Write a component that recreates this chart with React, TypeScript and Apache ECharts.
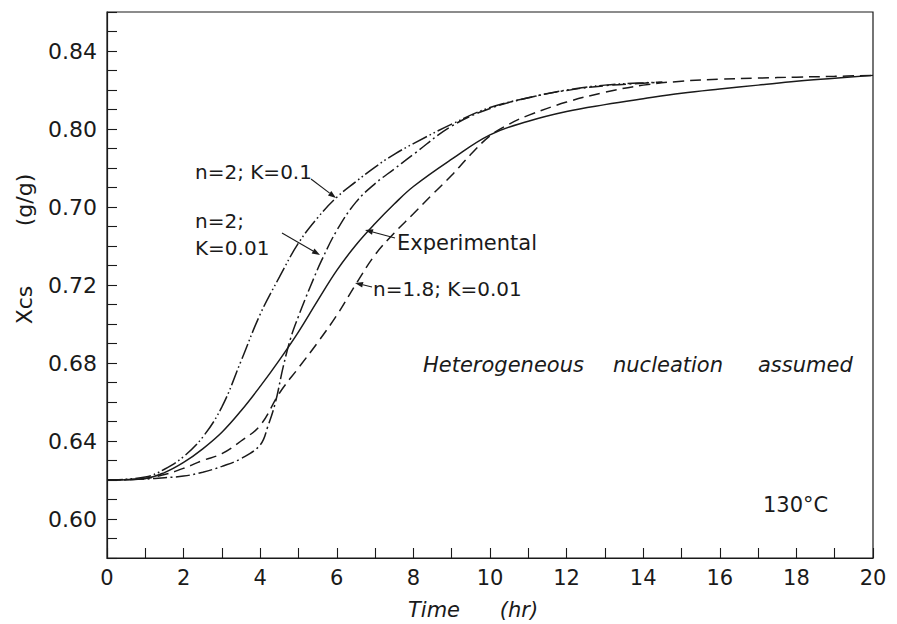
import React, { useEffect, useRef } from "react";
import * as echarts from "echarts";

// ---- data ----
const xLabelValues = [0, 2, 4, 6, 8, 10, 12, 14, 16, 18, 20];
const yLabelValues = [0.6, 0.64, 0.68, 0.72, 0.76, 0.8, 0.84];
const yLabelTexts = ["0.60", "0.64", "0.68", "0.72", "0.70", "0.80", "0.84"];

const experimental = [
  [0, 0.62], [1, 0.6208], [1.5, 0.6238], [2, 0.629], [2.5, 0.636], [3, 0.6445],
  [3.5, 0.6555], [4, 0.668], [4.5, 0.6815], [5, 0.696], [5.5, 0.712], [6, 0.7275],
  [6.5, 0.7405], [7, 0.7515], [7.5, 0.7615], [8, 0.7705], [9, 0.7845], [10, 0.797],
  [11, 0.804], [12, 0.809], [13, 0.8125], [14, 0.8155], [15, 0.8183], [16, 0.8205],
  [17, 0.8225], [18, 0.8245], [19, 0.826], [20, 0.8275],
];

const n2K01 = [
  [0, 0.62], [1, 0.6215], [1.5, 0.6255], [2, 0.632], [2.5, 0.642], [3, 0.6575],
  [3.5, 0.681], [4, 0.705], [4.5, 0.724], [5, 0.7415], [5.5, 0.7545], [6, 0.765],
  [6.5, 0.773], [7, 0.7805], [7.5, 0.787], [8, 0.7925], [9, 0.8025], [10, 0.811],
  [11, 0.816], [12, 0.82], [13, 0.8225], [14, 0.8237], [14.5, 0.824],
];

const n2K001 = [
  [0, 0.62], [1, 0.6205], [1.5, 0.6212], [2, 0.622], [2.5, 0.624], [3, 0.627],
  [3.5, 0.631], [4, 0.638], [4.2, 0.6475], [4.4, 0.66], [4.6, 0.678], [4.8, 0.693],
  [5, 0.704], [5.2, 0.714], [5.4, 0.7235], [5.6, 0.7325], [6, 0.748], [6.5, 0.7625],
  [7, 0.772], [7.5, 0.7795], [8, 0.787], [9, 0.8015], [10, 0.8105], [11, 0.816],
  [12, 0.8198], [13, 0.8222], [14, 0.8235], [14.5, 0.824],
];

const n18K001 = [
  [0, 0.62], [1, 0.6208], [1.5, 0.6228], [2, 0.626], [2.5, 0.63], [3, 0.6335],
  [3.5, 0.64], [4, 0.648], [4.5, 0.6645], [5, 0.6775], [5.5, 0.6905], [6, 0.7045],
  [6.5, 0.7205], [7, 0.7355], [7.5, 0.7467], [8, 0.7565], [8.5, 0.7665], [9, 0.7763],
  [9.5, 0.787], [10, 0.7965], [10.5, 0.8025], [11, 0.807], [12, 0.8138], [13, 0.8188],
  [14, 0.8225], [15, 0.8245], [16, 0.8255], [17, 0.8261], [18, 0.8266], [19, 0.827],
  [20, 0.8275],
];

const FONT = "DejaVu Sans";
const INK = "#1a1a1a";

function arrow(x1: number, y1: number, x2: number, y2: number) {
  const dx = x2 - x1;
  const dy = y2 - y1;
  const len = Math.hypot(dx, dy);
  const ux = dx / len;
  const uy = dy / len;
  const hl = 8;
  const hw = 2.8;
  const bx = x2 - ux * hl;
  const by = y2 - uy * hl;
  return [
    {
      type: "line",
      silent: true,
      shape: { x1, y1, x2: bx, y2: by },
      style: { stroke: INK, lineWidth: 1.1 },
    },
    {
      type: "polygon",
      silent: true,
      shape: {
        points: [
          [x2, y2],
          [bx - uy * hw, by + ux * hw],
          [bx + uy * hw, by - ux * hw],
        ],
      },
      style: { fill: INK },
    },
  ];
}

function label(text: string, x: number, y: number, size = 20, italic = false, align = "left", rotation = 0) {
  return {
    type: "text",
    silent: true,
    x,
    y,
    rotation,
    style: {
      text,
      fill: INK,
      fontSize: size,
      fontFamily: FONT,
      fontStyle: italic ? "italic" : "normal",
      align,
      verticalAlign: "middle",
    },
  };
}

export default function App() {
  const ref = useRef<HTMLDivElement>(null);

  useEffect(() => {
    if (!ref.current) return;
    const chart = echarts.init(ref.current, undefined, { renderer: "svg" });

    const lineBase = {
      type: "line",
      showSymbol: false,
      symbol: "none",
      smooth: 0.4,
      clip: true,
    };

    chart.setOption({
      animation: false,
      backgroundColor: "#ffffff",
      grid: {
        left: 107,
        right: 24,
        top: 12,
        bottom: 66,
        show: true,
        borderColor: INK,
        borderWidth: 1.2,
        backgroundColor: "transparent",
      },
      xAxis: {
        type: "value",
        min: 0,
        max: 20,
        interval: 1,
        axisLine: { show: true, onZero: false, lineStyle: { color: INK, width: 1.2 } },
        axisTick: { show: true, inside: true, length: 10, lineStyle: { color: INK, width: 1.1 } },
        splitLine: { show: false },
        axisLabel: {
          interval: 0,
          margin: 9,
          color: INK,
          fontSize: 21,
          fontFamily: FONT,
          formatter: (v: number) => {
            const r = Math.round(v * 100) / 100;
            return xLabelValues.includes(r) ? String(r) : "";
          },
        },
      },
      yAxis: {
        type: "value",
        min: 0.58,
        max: 0.86,
        interval: 0.01,
        axisLine: { show: true, onZero: false, lineStyle: { color: INK, width: 1.2 } },
        axisTick: { show: true, inside: true, length: 10, lineStyle: { color: INK, width: 1.1 } },
        splitLine: { show: false },
        axisLabel: {
          interval: 0,
          margin: 10,
          color: INK,
          fontSize: 22,
          fontFamily: FONT,
          formatter: (v: number) => {
            const r = Math.round(v * 100);
            const idx = yLabelValues.findIndex((y) => Math.round(y * 100) === r);
            return idx >= 0 ? yLabelTexts[idx] : "";
          },
        },
      },
      series: [
        {
          ...lineBase,
          name: "Experimental",
          data: experimental,
          lineStyle: { color: INK, width: 1.5, type: "solid" },
        },
        {
          ...lineBase,
          name: "n=2; K=0.1",
          data: n2K01,
          lineStyle: { color: INK, width: 1.5, type: [16, 3, 1.6, 3, 1.6, 3] },
        },
        {
          ...lineBase,
          name: "n=2; K=0.01",
          data: n2K001,
          lineStyle: { color: INK, width: 1.5, type: [14, 3.5, 2, 3.5] },
        },
        {
          ...lineBase,
          name: "n=1.8; K=0.01",
          data: n18K001,
          lineStyle: { color: INK, width: 1.5, type: [11, 6] },
        },
      ],
      graphic: [
        label("n=2; K=0.1", 195, 172, 20),
        ...arrow(311, 179, 336, 198),
        label("n=2;", 195, 221, 20),
        label("K=0.01", 195, 248, 20),
        ...arrow(282, 233, 320, 255),
        label("Experimental", 397, 243, 21),
        ...arrow(395, 238, 365, 230),
        label("n=1.8; K=0.01", 373, 289, 20),
        ...arrow(372, 287, 355, 283),
        label("Heterogeneous", 423, 365, 21, true),
        label("nucleation", 613, 365, 21, true),
        label("assumed", 758, 365, 21, true),
        label("130°C", 763, 505, 21),
        label("Time", 434, 610, 21, true, "center"),
        label("(hr)", 519, 610, 21, true, "center"),
        label("Xcs", 24, 305, 22, false, "center", Math.PI / 2),
        label("(g/g)", 24, 200, 22, false, "center", Math.PI / 2),
      ],
    });

    return () => chart.dispose();
  }, []);

  return (
    <div
      ref={ref}
      style={{ position: "fixed", left: 0, top: 0, width: 897, height: 624, background: "#fff" }}
    />
  );
}
